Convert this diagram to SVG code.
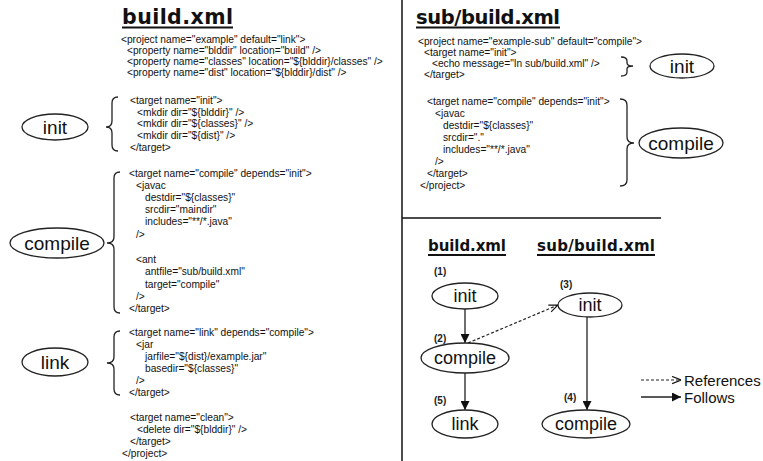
<svg xmlns="http://www.w3.org/2000/svg" width="763" height="461" viewBox="0 0 763 461">
  <style>
    .code { font-family: "Liberation Sans", Arial, sans-serif; font-size: 10.2px; fill: #111; }
    .title { font-family: "DejaVu Sans", Verdana, sans-serif; font-weight: bold; fill: #111; }
    .lbl { font-family: "Liberation Sans", Arial, sans-serif; fill: #111; text-anchor: middle; }
    .num { font-family: "Liberation Sans", Arial, sans-serif; font-size: 10px; font-weight: bold; fill: #222; }
    .node ellipse { fill: #fff; stroke: #222; stroke-width: 1.3; }
    .brace { fill: none; stroke: #222; stroke-width: 1.3; }
    .rule { stroke: #111; stroke-width: 1.5; }
    .uline { stroke: #111; stroke-width: 2; }
    .follow { stroke: #222; stroke-width: 1.3; fill: none; marker-end: url(#solidHead); }
    .ref { stroke: #222; stroke-width: 1.2; fill: none; stroke-dasharray: 3 2; marker-end: url(#openHead); }
  </style>
  <defs>
    <marker id="solidHead" viewBox="0 0 10 10" refX="10" refY="5" markerWidth="9" markerHeight="9" markerUnits="userSpaceOnUse" orient="auto">
      <path d="M0,0 L10,5 L0,10 Z" fill="#111"/>
    </marker>
    <marker id="openHead" viewBox="0 0 10 10" refX="10" refY="5" markerWidth="9" markerHeight="9" markerUnits="userSpaceOnUse" orient="auto">
      <path d="M0,1 L10,5 L0,9" fill="none" stroke="#111" stroke-width="1.3"/>
    </marker>
  </defs>

  <rect width="763" height="461" fill="#fff"/>

  <!-- panel dividers -->
  <line class="rule" x1="402" y1="0" x2="402" y2="461"/>
  <line class="rule" x1="402" y1="218" x2="661" y2="218"/>

  <!-- build.xml listing -->
  <g id="build-xml-listing">
    <text class="title" x="122" y="23.5" font-size="20.5" textLength="111">build.xml</text>
    <line class="uline" x1="122" y1="27.5" x2="233" y2="27.5"/>
    <text class="code" x="121" y="43">&lt;project name="example" default="link"&gt;</text>
    <text class="code" x="127" y="54">&lt;property name="blddir" location="build" /&gt;</text>
    <text class="code" x="127" y="65">&lt;property name="classes" location="${blddir}/classes" /&gt;</text>
    <text class="code" x="127" y="76">&lt;property name="dist" location="${blddir}/dist" /&gt;</text>

    <text class="code" x="130" y="104">&lt;target name="init"&gt;</text>
    <text class="code" x="137" y="116">&lt;mkdir dir="${blddir}" /&gt;</text>
    <text class="code" x="137" y="127">&lt;mkdir dir="${classes}" /&gt;</text>
    <text class="code" x="137" y="139">&lt;mkdir dir="${dist}" /&gt;</text>
    <text class="code" x="130" y="151">&lt;/target&gt;</text>

    <text class="code" x="129" y="177">&lt;target name="compile" depends="init"&gt;</text>
    <text class="code" x="136" y="189">&lt;javac</text>
    <text class="code" x="145" y="201">destdir="${classes}"</text>
    <text class="code" x="145" y="213">srcdir="maindir"</text>
    <text class="code" x="145" y="225">includes="**/*.java"</text>
    <text class="code" x="136" y="238">/&gt;</text>
    <text class="code" x="136" y="263">&lt;ant</text>
    <text class="code" x="145" y="275">antfile="sub/build.xml"</text>
    <text class="code" x="145" y="288">target="compile"</text>
    <text class="code" x="136" y="300">/&gt;</text>
    <text class="code" x="129" y="312">&lt;/target&gt;</text>

    <text class="code" x="129" y="336">&lt;target name="link" depends="compile"&gt;</text>
    <text class="code" x="136" y="348">&lt;jar</text>
    <text class="code" x="145" y="360">jarfile="${dist}/example.jar"</text>
    <text class="code" x="145" y="372">basedir="${classes}"</text>
    <text class="code" x="136" y="384">/&gt;</text>
    <text class="code" x="129" y="396">&lt;/target&gt;</text>

    <text class="code" x="130" y="421">&lt;target name="clean"&gt;</text>
    <text class="code" x="137" y="433">&lt;delete dir="${blddir}" /&gt;</text>
    <text class="code" x="130" y="445">&lt;/target&gt;</text>
    <text class="code" x="122" y="457">&lt;/project&gt;</text>
  </g>

  <!-- braces grouping the build.xml targets -->
  <g id="build-xml-braces">
    <path class="brace" d="M118,97 Q112,97 112,103 L112,121 Q112,127 106,127 Q112,127 112,133 L112,145 Q112,151 118,151"/>
    <path class="brace" d="M120,172 Q114,172 114,178 L114,237 Q114,243 107,243 Q114,243 114,249 L114,307 Q114,313 120,313"/>
    <path class="brace" d="M120,331 Q114,331 114,337 L114,357 Q114,363 107,363 Q114,363 114,369 L114,389 Q114,395 120,395"/>
  </g>

  <g id="left-init" class="node">
    <ellipse cx="55" cy="127" rx="33" ry="13"/>
    <text class="lbl" x="55" y="134" font-size="19">init</text>
  </g>
  <g id="left-compile" class="node">
    <ellipse cx="57" cy="243" rx="47" ry="15"/>
    <text class="lbl" x="57" y="250" font-size="19">compile</text>
  </g>
  <g id="left-link" class="node">
    <ellipse cx="55" cy="362" rx="33" ry="14"/>
    <text class="lbl" x="55" y="369" font-size="19">link</text>
  </g>

  <!-- sub/build.xml listing -->
  <g id="sub-build-xml-listing">
    <text class="title" x="416" y="23.5" font-size="19.5" textLength="144">sub/build.xml</text>
    <line class="uline" x1="416" y1="27.5" x2="560" y2="27.5"/>
    <text class="code" x="418" y="45">&lt;project name="example-sub" default="compile"&gt;</text>
    <text class="code" x="424" y="56">&lt;target name="init"&gt;</text>
    <text class="code" x="432" y="67">&lt;echo message="In sub/build.xml" /&gt;</text>
    <text class="code" x="424" y="78">&lt;/target&gt;</text>

    <text class="code" x="427" y="105">&lt;target name="compile" depends="init"&gt;</text>
    <text class="code" x="435" y="117">&lt;javac</text>
    <text class="code" x="443" y="129">destdir="${classes}"</text>
    <text class="code" x="443" y="141">srcdir="."</text>
    <text class="code" x="443" y="153">includes="**/*.java"</text>
    <text class="code" x="435" y="165">/&gt;</text>
    <text class="code" x="427" y="177">&lt;/target&gt;</text>
    <text class="code" x="420" y="189">&lt;/project&gt;</text>
  </g>

  <g id="sub-build-xml-braces">
    <path class="brace" d="M621,57 Q627,57 627,61 L627,63 Q627,66 633,66 Q627,66 627,69 L627,72 Q627,76 621,76"/>
    <path class="brace" d="M620,99 Q627,99 627,105 L627,137 Q627,143 634,143 Q627,143 627,149 L627,180 Q627,186 620,186"/>
  </g>

  <g id="sub-init" class="node">
    <ellipse cx="682" cy="66" rx="32" ry="12"/>
    <text class="lbl" x="682" y="73" font-size="19">init</text>
  </g>
  <g id="sub-compile" class="node">
    <ellipse cx="681" cy="143" rx="42" ry="15"/>
    <text class="lbl" x="681" y="150" font-size="19">compile</text>
  </g>

  <!-- execution order diagram -->
  <g id="order-titles">
    <text class="title" x="428" y="251" font-size="15" textLength="78">build.xml</text>
    <line class="uline" x1="428" y1="255" x2="506" y2="255"/>
    <text class="title" x="537" y="251" font-size="15" textLength="118">sub/build.xml</text>
    <line class="uline" x1="537" y1="255" x2="655" y2="255"/>
  </g>

  <g id="connectors">
    <line class="follow" x1="465" y1="309" x2="465" y2="343"/>
    <line class="follow" x1="465" y1="373" x2="465" y2="410"/>
    <line class="follow" x1="587" y1="317" x2="587" y2="410"/>
    <line class="ref" x1="468" y1="343" x2="558" y2="305"/>
  </g>

  <g id="order-init" class="node">
    <text class="num" x="434" y="275">(1)</text>
    <ellipse cx="465" cy="296" rx="33" ry="13"/>
    <text class="lbl" x="465" y="302" font-size="18">init</text>
  </g>
  <g id="order-compile" class="node">
    <text class="num" x="434" y="342">(2)</text>
    <ellipse cx="465" cy="358" rx="44" ry="15"/>
    <text class="lbl" x="465" y="364" font-size="18">compile</text>
  </g>
  <g id="order-link" class="node">
    <text class="num" x="434" y="404">(5)</text>
    <ellipse cx="465" cy="424" rx="33" ry="14"/>
    <text class="lbl" x="465" y="430" font-size="18">link</text>
  </g>
  <g id="order-sub-init" class="node">
    <text class="num" x="560" y="288">(3)</text>
    <ellipse cx="590" cy="305" rx="32" ry="12"/>
    <text class="lbl" x="590" y="311" font-size="18">init</text>
  </g>
  <g id="order-sub-compile" class="node">
    <text class="num" x="564" y="401">(4)</text>
    <ellipse cx="586" cy="424" rx="44" ry="14"/>
    <text class="lbl" x="586" y="430" font-size="18">compile</text>
  </g>

  <!-- legend -->
  <g id="legend">
    <line class="ref" x1="641" y1="380" x2="681" y2="380"/>
    <text x="684" y="386" font-family="Liberation Sans, Arial, sans-serif" font-size="15" fill="#111">References</text>
    <line class="follow" x1="641" y1="397" x2="681" y2="397"/>
    <text x="684" y="403" font-family="Liberation Sans, Arial, sans-serif" font-size="15" fill="#111">Follows</text>
  </g>
</svg>
